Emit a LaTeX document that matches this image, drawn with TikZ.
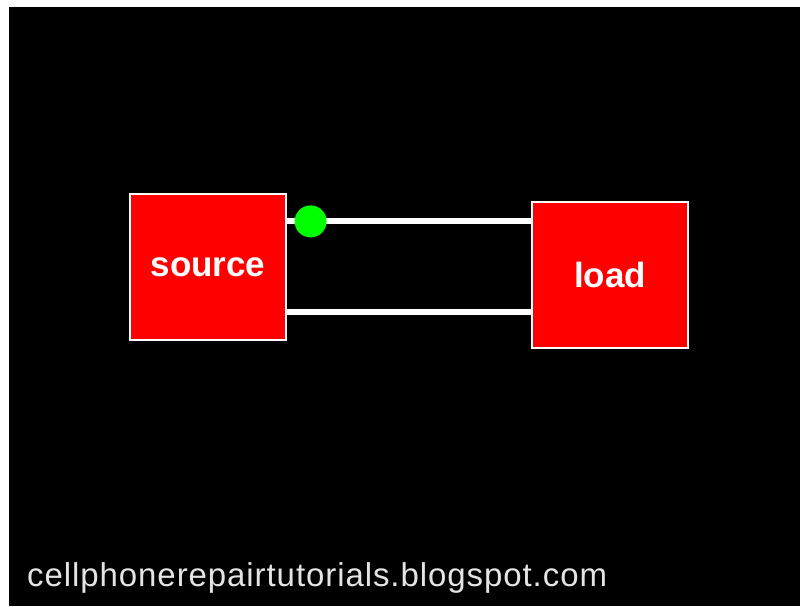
\documentclass[tikz,border=0pt]{standalone}
\usepackage{fontspec}
\setmainfont{Liberation Sans}
\usetikzlibrary{positioning,calc}
\definecolor{boxred}{RGB}{255,0,0}
\definecolor{dotgreen}{RGB}{0,255,0}
\definecolor{credit}{RGB}{228,228,228}
\tikzset{
    block/.style={
        draw=white,
        line width=1.2pt,
        fill=boxred,
        rectangle,
        minimum width=156pt,
        minimum height=146pt,
        inner sep=0pt,
        text=white,
        font=\fontsize{35}{40}\selectfont\bfseries
    },
    wire/.style={
        draw=white,
        line width=6pt
    },
    junction/.style={
        circle,
        fill=dotgreen,
        minimum size=32pt,
        inner sep=0pt
    },
}
\begin{document}
\begin{tikzpicture}[x=1pt, y=1pt]
    \useasboundingbox[fill=white] (0,0) rectangle (800,606);
    \fill[black] (9,0) rectangle (800,599);

    \node[block] (source) at (208,339) {source};
    \node[block] (load) at (610,331) {load};

    \coordinate (out_top) at ($(source.north east)+(0,-28)$);
    \coordinate (out_bot) at ($(source.south east)+(0,29)$);

    \draw[wire] (out_top) -- (out_top -| load.west);
    \draw[wire] (out_bot) -- (out_bot -| load.west);
    \node[junction] (dot) at ($(out_top)+(24,0)$) {};

    \node[anchor=base west, inner sep=0pt, text=credit, font=\fontsize{33}{38}\selectfont\addfontfeature{LetterSpace=2.8}] (blog) at (27,20) {cellphonerepairtutorials.blogspot.com};
\end{tikzpicture}
\end{document}
